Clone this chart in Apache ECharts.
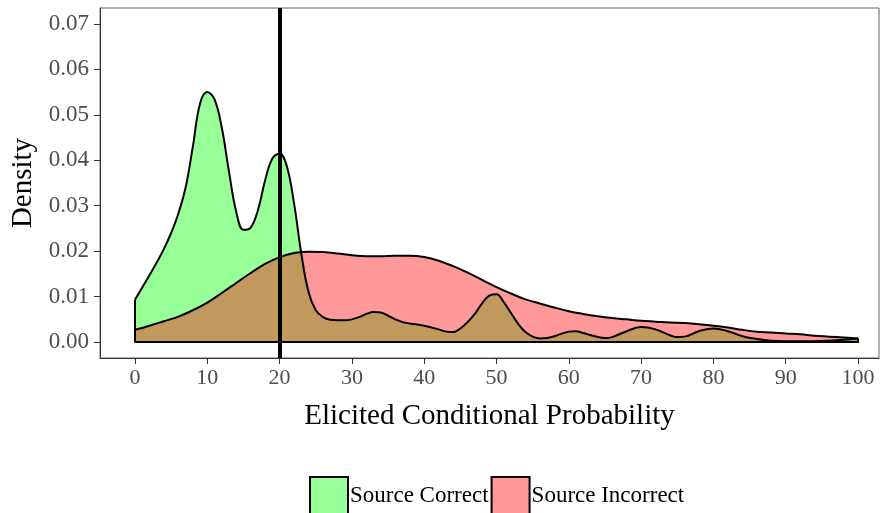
<!DOCTYPE html>
<html>
<head>
<meta charset="utf-8">
<script src="https://cdn.jsdelivr.net/npm/echarts@6/dist/echarts.min.js"></script>
<style>html,body{margin:0;padding:0;background:#fff;}#c{width:881px;height:513px;}</style>
</head>
<body>
<div id="c"></div>
<script>
// ---- data ----
const xTicks = [0, 10, 20, 30, 40, 50, 60, 70, 80, 90, 100];
const yTicks = [0, 0.01, 0.02, 0.03, 0.04, 0.05, 0.06, 0.07];
const seriesNames = ['Source Correct', 'Source Incorrect'];

const correctX = [0,1,2,3,4,5,6,7,8,9,10,11,12,13,14,15,16,17,18,19,20,21,22,23,24,25,26,27,28,29,30,31,32,33,34,35,36,37,38,40,42,43,44,45,46,47,48,49,50,51,52,53,54,55,56,57,58,60,61,62,64,65,66,68,70,72,74,75,76,78,80,82,84,86,88,90,92,94,96,98,100];
const correctY = [0.0093,0.0120,0.0147,0.0175,0.0205,0.0240,0.0283,0.0340,0.0430,0.0525,0.0550,0.0534,0.0472,0.0375,0.0287,0.0247,0.0252,0.0290,0.0356,0.0404,0.0415,0.0387,0.0305,0.0195,0.0110,0.0070,0.0055,0.0049,0.0048,0.0048,0.0050,0.0055,0.0062,0.0066,0.0065,0.0058,0.0050,0.0044,0.0041,0.0036,0.0028,0.0023,0.0022,0.0030,0.0044,0.0062,0.0085,0.0102,0.0105,0.0088,0.0064,0.0040,0.0022,0.0012,0.0008,0.0009,0.0013,0.0023,0.0024,0.0020,0.0011,0.0009,0.0011,0.0024,0.0033,0.0028,0.0015,0.0011,0.0012,0.0024,0.0030,0.0024,0.0013,0.0007,0.0003,0.0002,0.0002,0.0002,0.0003,0.0005,0.0008];

const incorrectX = [0,2,4,6,8,10,12,14,16,18,20,22,24,26,28,30,32,34,36,38,40,42,44,46,48,50,52,54,56,58,60,62,64,66,68,70,72,74,76,78,80,82,84,86,88,90,92,94,96,98,100];
const incorrectY = [0.0027,0.0036,0.0046,0.0056,0.0070,0.0087,0.0108,0.0130,0.0152,0.0172,0.0187,0.0196,0.0199,0.0198,0.0195,0.0191,0.0189,0.0189,0.0190,0.0190,0.0187,0.0179,0.0167,0.0153,0.0137,0.0121,0.0107,0.0094,0.0085,0.0076,0.0068,0.0062,0.0057,0.0053,0.0050,0.0047,0.0045,0.0043,0.0042,0.0039,0.0036,0.0032,0.0027,0.0023,0.0021,0.0019,0.0017,0.0014,0.0012,0.0010,0.0008];

const thresholdX = 20;

// ---- build ----
const pair = (xs, ys) => xs.map((x, i) => [x, ys[i]]);
const edges = (xs, ys) => [[xs[0], ys[0]], [xs[0], 0], [xs[xs.length - 1], 0], [xs[xs.length - 1], ys[ys.length - 1]]];

const serif = 'Liberation Serif';
const greenFill = 'rgba(0,255,0,0.4)';
const redFill = 'rgba(255,0,0,0.4)';

const chart = echarts.init(document.getElementById('c'), null, {renderer: 'canvas'});
chart.setOption({
  animation: false,
  backgroundColor: '#ffffff',
  grid: {left: 100, top: 8, right: 2, bottom: 155, show: true, borderColor: '#666', borderWidth: 1,
    backgroundColor: 'transparent', containLabel: false, outerBoundsMode: 'none'},
  xAxis: {
    type: 'value', min: -4.84, max: 102.9,
    name: 'Elicited Conditional Probability', nameLocation: 'middle', nameGap: 44,
    nameTextStyle: {fontFamily: serif, fontSize: 29, color: '#000'},
    axisLine: {show: true, onZero: false, lineStyle: {color: '#333', width: 1}},
    axisTick: {show: true, length: 6, lineStyle: {color: '#333'}, customValues: xTicks},
    axisLabel: {customValues: xTicks, fontFamily: serif, fontSize: 22, color: '#4d4d4d', margin: 9},
    splitLine: {show: false}
  },
  yAxis: {
    type: 'value', min: -0.0035, max: 0.0735,
    name: 'Density', nameLocation: 'middle', nameGap: 62, nameRotate: 90,
    nameTextStyle: {fontFamily: serif, fontSize: 29, color: '#000'},
    axisLine: {show: true, onZero: false, lineStyle: {color: '#333', width: 1}},
    axisTick: {show: true, length: 6, lineStyle: {color: '#333'}, customValues: yTicks},
    axisLabel: {customValues: yTicks, fontFamily: serif, fontSize: 23, color: '#4d4d4d', margin: 11,
      formatter: v => v.toFixed(2)},
    splitLine: {show: false}
  },
  legend: {
    left: 304, top: 471, icon: 'rect', itemWidth: 38, itemHeight: 38, itemGap: 2,
    textStyle: {fontFamily: serif, fontSize: 23, color: '#000', padding: [0,0,0,-3]},
    itemStyle: {borderColor: '#000', borderWidth: 2},
    data: [
      {name: seriesNames[0], itemStyle: {color: '#99ff99', borderColor: '#000', borderWidth: 2}},
      {name: seriesNames[1], itemStyle: {color: '#ff9999', borderColor: '#000', borderWidth: 2}}
    ]
  },
  series: [
    {
      name: seriesNames[0], type: 'line', data: pair(correctX, correctY), smooth: 0.4,
      showSymbol: false, symbol: 'none', color: '#99ff99',
      lineStyle: {color: '#000', width: 2}, areaStyle: {color: greenFill, opacity: 1}, z: 2
    },
    {
      name: 'edgeCorrect', type: 'line', data: edges(correctX, correctY), showSymbol: false, symbol: 'none',
      lineStyle: {color: '#000', width: 2}, z: 2, silent: true
    },
    {
      name: seriesNames[1], type: 'line', data: pair(incorrectX, incorrectY), smooth: 0.4,
      showSymbol: false, symbol: 'none', color: '#ff9999',
      lineStyle: {color: '#000', width: 2}, areaStyle: {color: redFill, opacity: 1}, z: 2
    },
    {
      name: 'edgeIncorrect', type: 'line', data: edges(incorrectX, incorrectY), showSymbol: false, symbol: 'none',
      lineStyle: {color: '#000', width: 2}, z: 2, silent: true,
      markLine: {
        silent: true, symbol: 'none', label: {show: false},
        lineStyle: {color: '#000', width: 4, type: 'solid'},
        data: [{xAxis: thresholdX}]
      }
    }
  ]
});
</script>
</body>
</html>
